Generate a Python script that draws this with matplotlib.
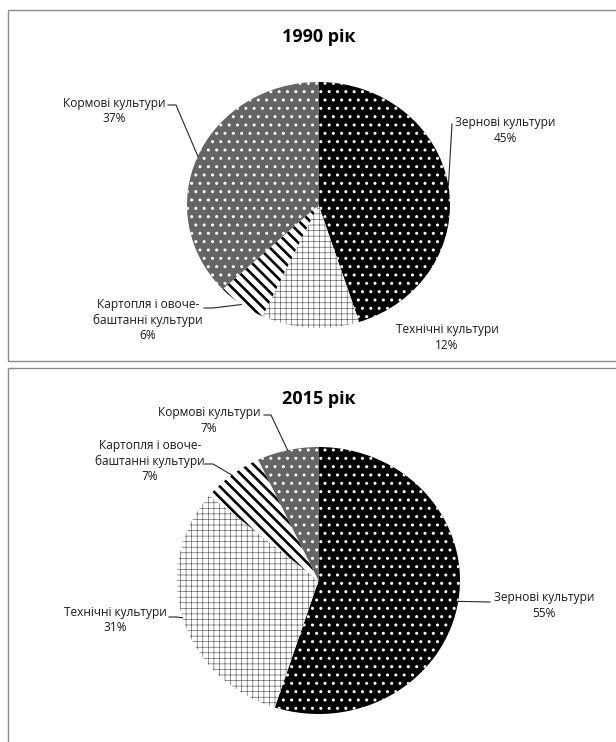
import numpy as np
import matplotlib
matplotlib.use("Agg")
from matplotlib import pyplot as plt
from matplotlib.patches import Rectangle
from matplotlib.lines import Line2D

plt.rcParams['font.family'] = ['Open Sans', 'DejaVu Sans']

W, H = 616, 742

crops = ['Зернові культури', 'Технічні культури',
         'Картопля і овоче-\nбаштанні культури', 'Кормові культури']
share_1990 = [45, 12, 6, 37]
share_2015 = [55, 31, 7, 7]
titles = ['1990 рік', '2015 рік']

# face colour, hatch, hatch colour, hatch width for each crop
styles = [
    ('black', '..', 'white', 1.0),
    ('white', '+++', '#5a5a5a', 0.45),
    ('white', '\\\\\\', 'black', 1.9),
    ('#646464', '..', 'white', 1.0),
]


def fx(x):
    return x / W


def fy(y):
    return 1 - y / H


fig = plt.figure(figsize=(W / 100, H / 100), dpi=100)

# chart frames (the right/bottom edges run off the picture)
for top, bottom in [(10, 361), (368, 760)]:
    fig.add_artist(Rectangle((fx(8), fy(bottom)), fx(640) - fx(8), (bottom - top) / H,
                             transform=fig.transFigure, fill=False,
                             edgecolor='#8c8c8c', lw=1))


def draw_pie(box, values, title, title_y, label_pos, leaders):
    l, t, r, b = box
    ax = fig.add_axes([fx(l), fy(b), (r - l) / W, (b - t) / H])
    wedges, _ = ax.pie(values, startangle=90, counterclock=False, radius=1)
    ax.set_xlim(-1, 1)
    ax.set_ylim(-1, 1)
    ax.set_aspect('auto')
    for w, (fc, hatch, hc, hlw) in zip(wedges, styles):
        w.set_facecolor(fc)
        w.set_hatch(hatch)
        w.set_edgecolor(hc)
        w.set_linewidth(0)
        if hasattr(w, 'set_hatch_linewidth'):
            w.set_hatch_linewidth(hlw)

    fig.text(fx((l + r) / 2), fy(title_y), title, ha='center', va='baseline',
             fontsize=13, fontweight='bold', color='black')

    total = sum(values)
    cum = 0
    for v, name, pos, lead in zip(values, crops, label_pos, leaders):
        mid = cum + v / 2
        cum += v
        ang = np.deg2rad(90 - 360 * mid / total)
        fig.text(fx(pos[0]), fy(pos[1]), f'{name}\n{v}%', ha='center', va='center',
                 multialignment='center', fontsize=8.6, color='#1a1a1a',
                 linespacing=1.25)
        if lead is None:
            continue
        ex, ey = ax.transData.transform((np.cos(ang), np.sin(ang)))
        xs = [fx(p[0]) for p in lead] + [ex / W]
        ys = [fy(p[1]) for p in lead] + [ey / H]
        fig.add_artist(Line2D(xs, ys, transform=fig.transFigure,
                              color='#262626', lw=0.8))


draw_pie((187, 82, 450, 328), share_1990, titles[0], 42,
         [(505, 130.5), (447, 337.5), (148, 320), (114, 111)],
         [[(452, 124)], None, [(204, 308), (213, 308)], [(168, 105), (176, 105)]])

draw_pie((177, 447, 460, 714), share_2015, titles[1], 404,
         [(544, 605.5), (115, 620), (150, 461), (209, 420.5)],
         [[(490, 602)], [(169, 617), (176, 617)], [(205, 464), (213, 464)],
          [(264, 415), (271, 415)]])

fig.savefig('out.png', dpi=100)
